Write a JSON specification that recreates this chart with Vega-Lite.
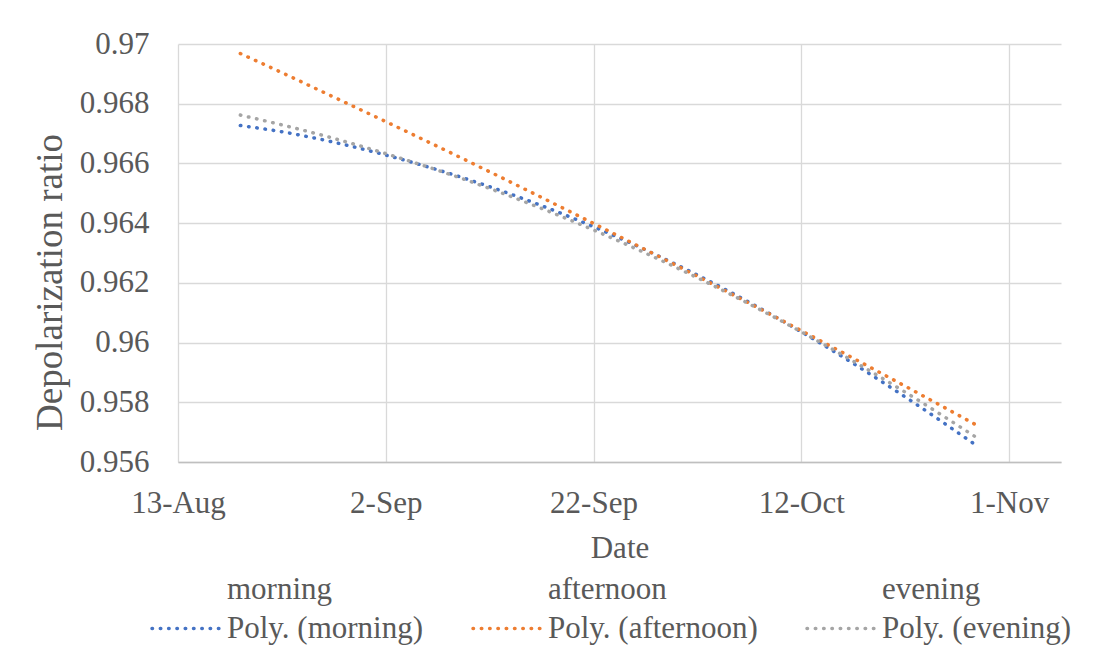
{
  "$schema": "https://vega.github.io/schema/vega-lite/v6.json",
  "width": 883,
  "height": 418,
  "autosize": {"type": "none"},
  "padding": {"left": 178, "top": 44, "right": 44, "bottom": 202},
  "background": "white",
  "config": {"view": {"stroke": null}, "font": "Liberation Serif"},
  "data": {
    "values": [
      {"date": "2019-08-19", "series": "Poly. (morning)", "value": 0.96727},
      {"date": "2019-08-23", "series": "Poly. (morning)", "value": 0.96706},
      {"date": "2019-08-28", "series": "Poly. (morning)", "value": 0.96671},
      {"date": "2019-09-02", "series": "Poly. (morning)", "value": 0.96628},
      {"date": "2019-09-12", "series": "Poly. (morning)", "value": 0.96522},
      {"date": "2019-09-22", "series": "Poly. (morning)", "value": 0.96388},
      {"date": "2019-10-02", "series": "Poly. (morning)", "value": 0.96226},
      {"date": "2019-10-12", "series": "Poly. (morning)", "value": 0.96036},
      {"date": "2019-10-22", "series": "Poly. (morning)", "value": 0.95818},
      {"date": "2019-10-29", "series": "Poly. (morning)", "value": 0.95652},
      {"date": "2019-08-19", "series": "Poly. (afternoon)", "value": 0.96968},
      {"date": "2019-08-23", "series": "Poly. (afternoon)", "value": 0.96904},
      {"date": "2019-08-28", "series": "Poly. (afternoon)", "value": 0.96822},
      {"date": "2019-09-02", "series": "Poly. (afternoon)", "value": 0.9674},
      {"date": "2019-09-12", "series": "Poly. (afternoon)", "value": 0.96572},
      {"date": "2019-09-22", "series": "Poly. (afternoon)", "value": 0.96399},
      {"date": "2019-10-02", "series": "Poly. (afternoon)", "value": 0.96222},
      {"date": "2019-10-12", "series": "Poly. (afternoon)", "value": 0.9604},
      {"date": "2019-10-22", "series": "Poly. (afternoon)", "value": 0.95854},
      {"date": "2019-10-29", "series": "Poly. (afternoon)", "value": 0.95721},
      {"date": "2019-08-19", "series": "Poly. (evening)", "value": 0.96762},
      {"date": "2019-08-23", "series": "Poly. (evening)", "value": 0.96729},
      {"date": "2019-08-28", "series": "Poly. (evening)", "value": 0.96684},
      {"date": "2019-09-02", "series": "Poly. (evening)", "value": 0.96633},
      {"date": "2019-09-12", "series": "Poly. (evening)", "value": 0.96516},
      {"date": "2019-09-22", "series": "Poly. (evening)", "value": 0.96377},
      {"date": "2019-10-02", "series": "Poly. (evening)", "value": 0.96217},
      {"date": "2019-10-12", "series": "Poly. (evening)", "value": 0.96036},
      {"date": "2019-10-22", "series": "Poly. (evening)", "value": 0.95834},
      {"date": "2019-10-29", "series": "Poly. (evening)", "value": 0.95679}
    ]
  },
  "mark": {
    "type": "line",
    "strokeWidth": 3.5,
    "strokeDash": [0.5, 7.8],
    "strokeCap": "round",
    "interpolate": "monotone"
  },
  "encoding": {
    "x": {
      "field": "date",
      "type": "temporal",
      "scale": {
        "type": "utc",
        "nice": false,
        "domain": [
          {"year": 2019, "month": "aug", "date": 13, "utc": true},
          {"year": 2019, "month": "nov", "date": 6, "utc": true}
        ]
      },
      "axis": {
        "title": "Date",
        "values": [
          {"year": 2019, "month": "aug", "date": 13, "utc": true},
          {"year": 2019, "month": "sep", "date": 2, "utc": true},
          {"year": 2019, "month": "sep", "date": 22, "utc": true},
          {"year": 2019, "month": "oct", "date": 12, "utc": true},
          {"year": 2019, "month": "nov", "date": 1, "utc": true}
        ],
        "format": "%-d-%b",
        "grid": true,
        "gridColor": "#d9d9d9",
        "gridWidth": 1.3,
        "domainColor": "#bfbfbf",
        "domainWidth": 1.5,
        "ticks": false,
        "tickSize": 0,
        "labelFlush": false,
        "labelOverlap": false,
        "labelAngle": 0,
        "labelBaseline": "middle",
        "labelPadding": 41,
        "labelFont": "Liberation Serif",
        "labelFontSize": 31,
        "labelColor": "#595959",
        "titleFont": "Liberation Serif",
        "titleFontSize": 31,
        "titleFontWeight": "normal",
        "titleColor": "#595959",
        "titleBaseline": "middle",
        "titleY": 86
      }
    },
    "y": {
      "field": "value",
      "type": "quantitative",
      "scale": {"domain": [0.956, 0.97], "nice": false, "zero": false},
      "axis": {
        "title": "Depolarization ratio",
        "values": [0.956, 0.958, 0.96, 0.962, 0.964, 0.966, 0.968, 0.97],
        "format": ".3~f",
        "grid": true,
        "gridColor": "#d9d9d9",
        "gridWidth": 1.3,
        "domain": false,
        "ticks": false,
        "tickSize": 0,
        "labelFlush": false,
        "labelOverlap": false,
        "labelBaseline": "middle",
        "labelPadding": 29,
        "labelFont": "Liberation Serif",
        "labelFontSize": 31,
        "labelColor": "#595959",
        "titleFont": "Liberation Serif",
        "titleFontSize": 37,
        "titleFontWeight": "normal",
        "titleColor": "#595959",
        "titleAngle": -90,
        "titleAlign": "center",
        "titleBaseline": "middle",
        "titleX": -128,
        "titleY": 238
      }
    },
    "color": {
      "field": "series",
      "type": "nominal",
      "scale": {
        "domain": ["morning", "afternoon", "evening", "Poly. (morning)", "Poly. (afternoon)", "Poly. (evening)"],
        "range": ["transparent", "transparent", "transparent", "#4472C4", "#ED7D31", "#A5A5A5"]
      },
      "legend": {
        "title": null,
        "orient": "none",
        "legendX": -28,
        "legendY": 530,
        "columns": 3,
        "direction": "horizontal",
        "symbolType": "stroke",
        "symbolSize": 4489,
        "symbolStrokeWidth": 3.5,
        "symbolDash": [0.5, 7.8],
        "clipHeight": 31,
        "labelFont": "Liberation Serif",
        "labelFontSize": 31,
        "labelColor": "#595959",
        "labelOffset": 6,
        "labelLimit": 0,
        "columnPadding": 47,
        "rowPadding": 7,
        "encode": {"symbols": {"update": {"strokeCap": {"value": "round"}}}}
      }
    }
  }
}
